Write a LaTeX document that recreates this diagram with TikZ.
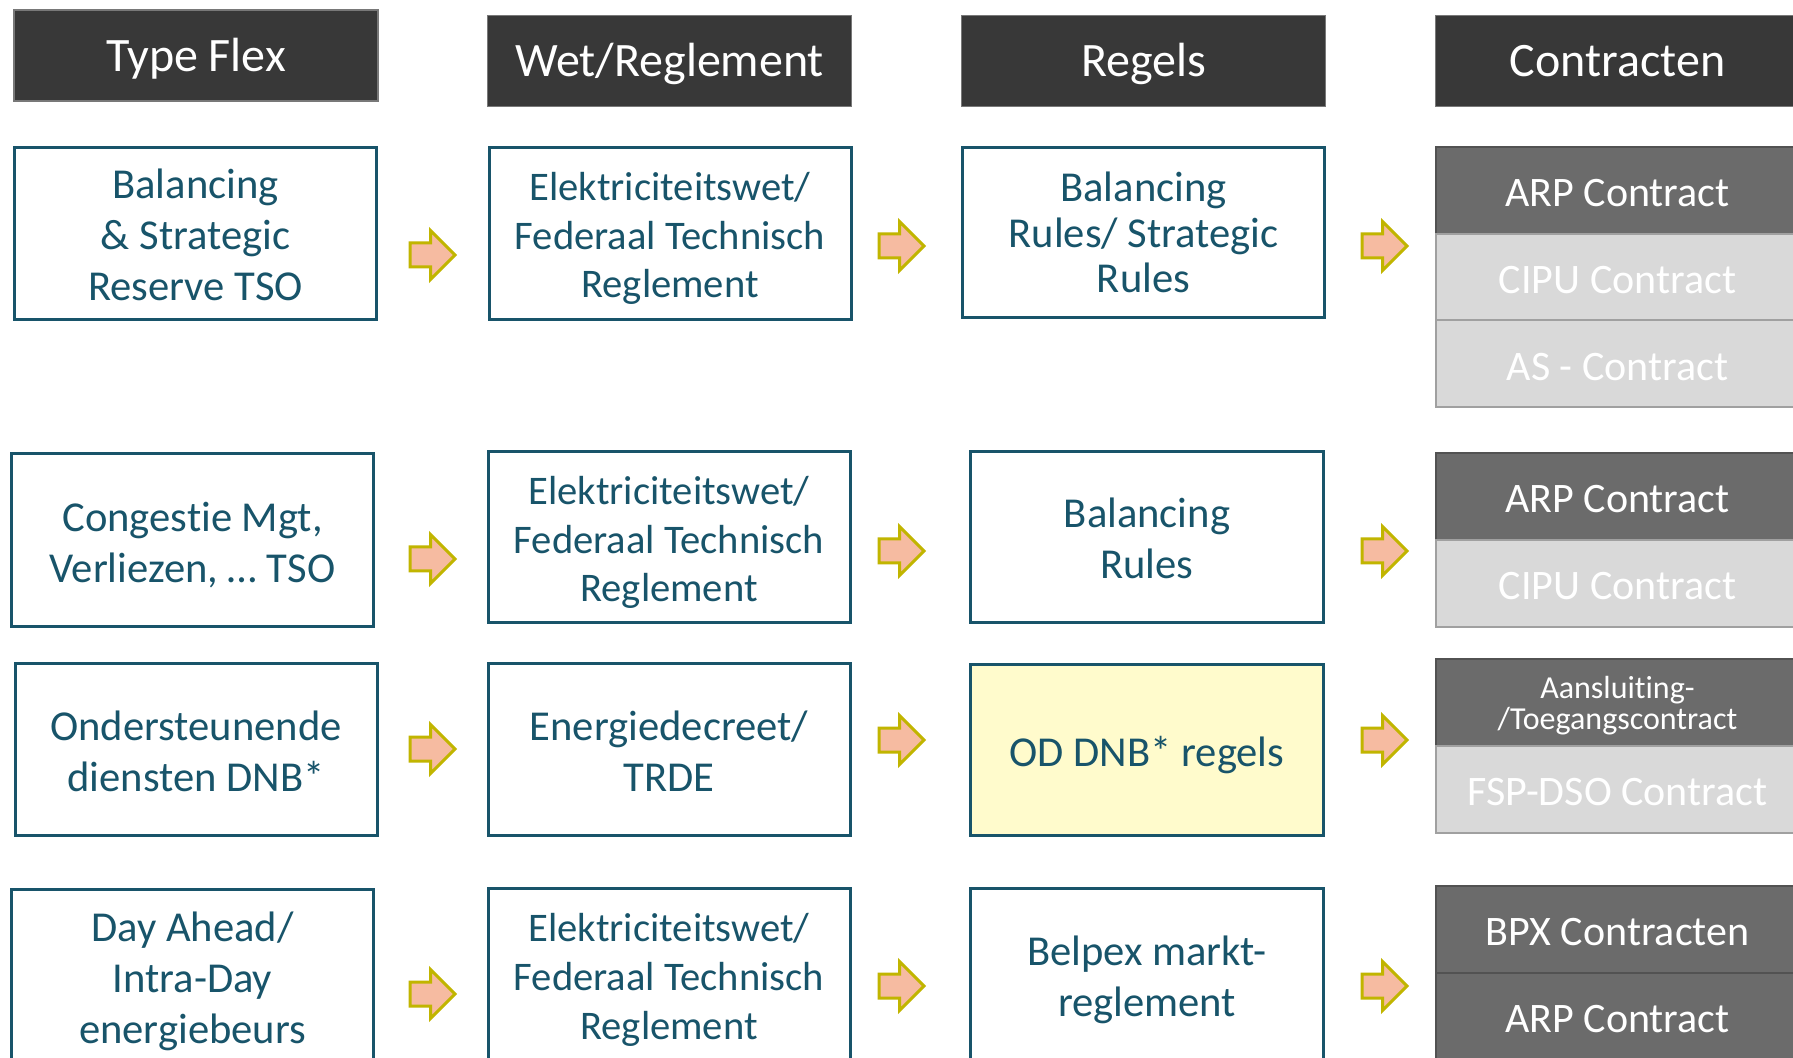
\documentclass[tikz,border=0pt]{standalone}
\usepackage{fontspec}
\setmainfont{Carlito}[Ligatures=NoCommon]
\usetikzlibrary{shapes.arrows}

\definecolor{hdrfill}{RGB}{56,56,56}
\definecolor{hdrline}{RGB}{120,120,120}
\definecolor{flexteal}{RGB}{24,84,106}
\definecolor{celldark}{RGB}{107,107,107}
\definecolor{celldarkline}{RGB}{82,82,82}
\definecolor{celllight}{RGB}{217,217,217}
\definecolor{celllightline}{RGB}{160,160,160}
\definecolor{notefill}{RGB}{255,251,204}
\definecolor{arrowfill}{RGB}{246,187,161}
\definecolor{arrowline}{RGB}{193,181,0}

% fixed strut on the first line and fixed depth on the last line,
% so that text sits at the same place in every box whatever its letters
\newcommand\boxtop{\rule{0pt}{\dimexpr\fontcharht\font`A+8pt\relax}}
\newcommand\boxbot[1]{\rule[-#1]{0pt}{#1}}

\tikzset{
  hdr/.style={draw=hdrline, line width=0.75pt, fill=hdrfill, text=white,
    font=\fontsize{24pt}{28pt}\selectfont, inner sep=0pt,
    minimum width=182pt, minimum height=45.5pt},
  flexbox/.style={draw=flexteal, line width=1.5pt, fill=white, text=flexteal,
    align=center, inner sep=0pt, minimum width=181pt, minimum height=86pt,
    font=\fontsize{21.3pt}{25.5pt}\selectfont},
  lawtext/.style={font=\fontsize{20.3pt}{24.3pt}\selectfont},
  tighter/.style={font=\fontsize{21.3pt}{22.9pt}\selectfont},
  cell/.style={line width=1pt, text=white, align=center, inner sep=0pt,
    minimum width=182pt, font=\fontsize{21pt}{25pt}\selectfont},
  darkcell/.style={cell, fill=celldark, draw=celldarkline},
  lightcell/.style={cell, fill=celllight, draw=celllightline},
  flexarrow/.style={single arrow, draw=arrowline, fill=arrowfill,
    line width=1.5pt, inner xsep=0pt, inner ysep=5.25pt,
    single arrow head extend=6.25pt, single arrow tip angle=90,
    minimum height=22.5pt, minimum width=0pt, anchor=tail}
}

\begin{document}
\begin{tikzpicture}[x=0.5pt, y=-0.5pt]
  \useasboundingbox (0,0) rectangle (1793,1058);
  \clip (0,0) rectangle (1793,1058);
  \fill[white] (0,0) rectangle (1793,1058);

  % column headers
  \node[hdr] (h1) at (196,55.5) {\boxtop Type Flex\boxbot{7.4pt}};
  \node[hdr] (h2) at (669.5,61) {\boxtop Wet/Reglement\boxbot{7.4pt}};
  \node[hdr] (h3) at (1143.5,61) {\boxtop Regels\boxbot{7.4pt}};
  \node[hdr] (h4) at (1617.5,61) {\boxtop Contracten\boxbot{7.4pt}};

  % row 1: balancing & strategic reserve
  \node[flexbox] (t1) at (195.5,233.5) {\boxtop Balancing\\ \& Strategic\\ Reserve TSO\boxbot{5.5pt}};
  \node[flexbox, lawtext] (w1) at (670,233.5) {\boxtop Elektriciteitswet/\\ Federaal Technisch\\ Reglement\boxbot{5.5pt}};
  \node[flexbox, tighter, minimum height=85pt] (r1) at (1143.5,232.5) {\boxtop Balancing\\ Rules/ Strategic\\ Rules\boxbot{7pt}};
  \node[darkcell, minimum height=43.3pt] (c1a) at (1617.5,190.3) {\boxtop ARP Contract\boxbot{5pt}};
  \node[lightcell, minimum height=43.3pt] (c1b) at (1617.5,277) {\boxtop CIPU Contract\boxbot{5pt}};
  \node[lightcell, minimum height=43.3pt] (c1c) at (1617.5,363.7) {\boxtop AS - Contract\boxbot{5pt}};

  % row 2: congestion management
  \node[flexbox, minimum height=86.5pt] (t2) at (192.5,540) {\boxtop Congestie Mgt,\\ Verliezen, … TSO\boxbot{5pt}};
  \node[flexbox, lawtext, minimum height=85.5pt] (w2) at (669,537) {\boxtop Elektriciteitswet/\\ Federaal Technisch\\ Reglement\boxbot{5pt}};
  \node[flexbox, minimum width=176.5pt, minimum height=85.5pt] (r2) at (1147,537) {\boxtop Balancing\\ Rules\boxbot{5.5pt}};
  \node[darkcell, minimum height=43.5pt] (c2a) at (1617.5,496.5) {\boxtop ARP Contract\boxbot{5pt}};
  \node[lightcell, minimum height=43.5pt] (c2b) at (1617.5,583.5) {\boxtop CIPU Contract\boxbot{5pt}};

  % row 3: ancillary services DSO
  \node[flexbox] (t3) at (196,749.5) {\boxtop Ondersteunende\\ diensten DNB*\boxbot{5.5pt}};
  \node[flexbox] (w3) at (669,749.5) {\boxtop Energiedecreet/\\ TRDE\boxbot{5.5pt}};
  \node[flexbox, fill=notefill, minimum width=176.5pt, minimum height=85.5pt] (r3) at (1147,750) {\boxtop OD DNB* regels\boxbot{5pt}};
  \node[darkcell, minimum height=43.5pt, font=\fontsize{16pt}{15.5pt}\selectfont] (c3a) at (1617.5,702.5) {\boxtop Aansluiting-\\ /Toegangscontract\boxbot{6.5pt}};
  \node[lightcell, minimum height=43.5pt] (c3b) at (1617.5,789.5) {\boxtop FSP-DSO Contract\boxbot{5pt}};

  % row 4: power exchange
  \node[flexbox] (t4) at (192.5,975.5) {\boxtop Day Ahead/\\ Intra-Day\\ energiebeurs\boxbot{5pt}};
  \node[flexbox, lawtext] (w4) at (669,974.5) {\boxtop Elektriciteitswet/\\ Federaal Technisch\\ Reglement\boxbot{5pt}};
  \node[flexbox, minimum width=176.5pt] (r4) at (1147,974) {\boxtop Belpex markt-\\ reglement\boxbot{5pt}};
  \node[darkcell, minimum height=43.5pt] (c4a) at (1617.5,929.5) {\boxtop BPX Contracten\boxbot{5pt}};
  \node[darkcell, minimum height=43.5pt] (c4b) at (1617.5,1016.5) {\boxtop ARP Contract\boxbot{5pt}};

  % flow arrows between the columns (placed by their tails)
  \node[flexarrow] (a11) at (408.5,255) {};
  \node[flexarrow] (a12) at (877.5,246) {};
  \node[flexarrow] (a13) at (1360.5,246) {};
  \node[flexarrow] (a21) at (408.5,559) {};
  \node[flexarrow] (a22) at (877.5,551) {};
  \node[flexarrow] (a23) at (1360.5,551) {};
  \node[flexarrow] (a31) at (408.5,749) {};
  \node[flexarrow] (a32) at (877.5,740) {};
  \node[flexarrow] (a33) at (1360.5,740) {};
  \node[flexarrow] (a41) at (408.5,994) {};
  \node[flexarrow] (a42) at (877.5,986) {};
  \node[flexarrow] (a43) at (1360.5,986) {};
\end{tikzpicture}
\end{document}
